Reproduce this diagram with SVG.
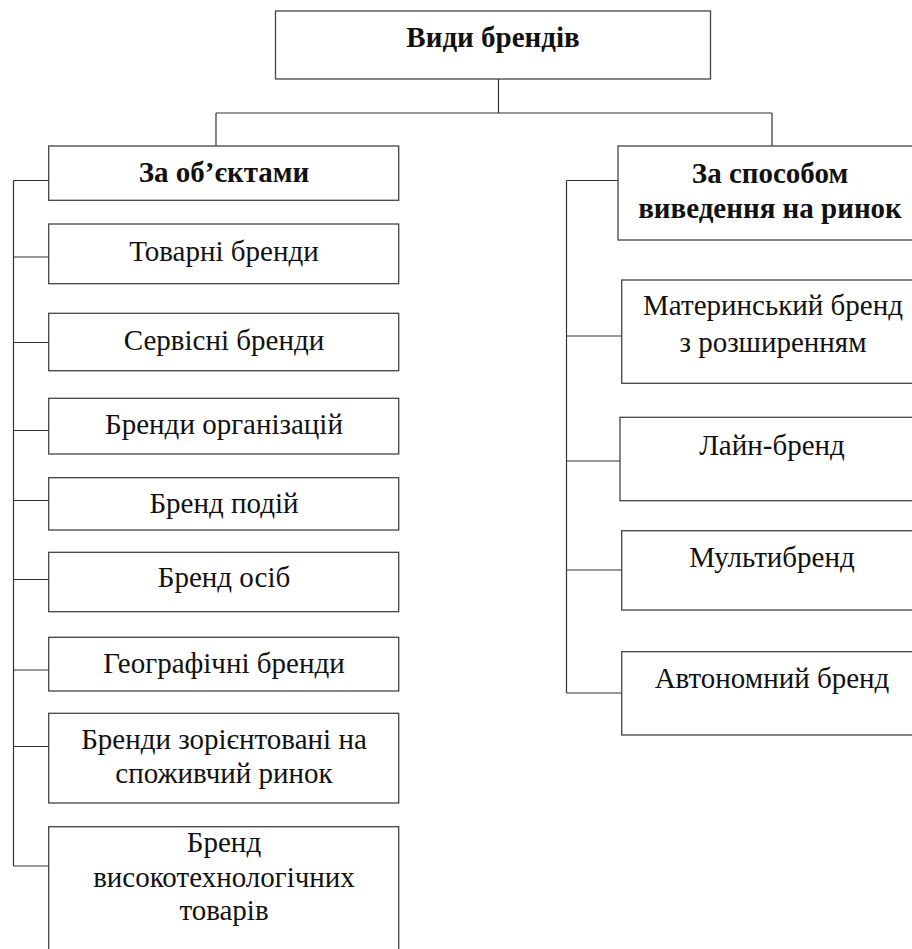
<svg xmlns="http://www.w3.org/2000/svg" width="912" height="949" viewBox="0 0 912 949">
<style>
.box{fill:#fff;stroke:#444;stroke-width:1.3}
.ln{fill:none;stroke:#333;stroke-width:1.2}
.t{font-family:'Liberation Serif','Times New Roman',Tinos,'DejaVu Serif',serif;font-size:29px;fill:#111;text-anchor:middle}
.b{font-weight:bold}
</style>
<rect width="912" height="949" fill="#fff"/>
<g id="connectors">
<path class="ln" d="M498.5,79 V113 M216,113 H772 M216,113 V146 M772,113 V146"/>
<path class="ln" d="M13.5,180.5 V866 M13.5,180.5 H49 M13.5,257 H49 M13.5,342.5 H49 M13.5,430.5 H49 M13.5,500.5 H49 M13.5,579.5 H49 M13.5,670 H49 M13.5,746.5 H49 M13.5,866 H49"/>
<path class="ln" d="M566.5,180.5 V693 M566.5,180.5 H618 M566.5,336 H622 M566.5,461 H620 M566.5,570 H622 M566.5,693 H622"/>
</g>
<g id="root"><rect class="box" x="275.5" y="11" width="435" height="68"/><text class="t b" x="493" y="47">Види брендів</text></g>
<g id="left-head"><rect class="box" x="48.7" y="146" width="350" height="54.3"/><text class="t b" x="224" y="182">За об’єктами</text></g>
<g id="l1"><rect class="box" x="48.7" y="224" width="350" height="59.7"/><text class="t" x="224" y="261">Товарні бренди</text></g>
<g id="l2"><rect class="box" x="48.7" y="313.3" width="350" height="57.4"/><text class="t" x="224" y="349.5">Сервісні бренди</text></g>
<g id="l3"><rect class="box" x="48.7" y="398.3" width="350" height="55.7"/><text class="t" x="224" y="433.5">Бренди організацій</text></g>
<g id="l4"><rect class="box" x="48.7" y="477.7" width="350" height="52.3"/><text class="t" x="224" y="512.7">Бренд подій</text></g>
<g id="l5"><rect class="box" x="48.7" y="552.3" width="350" height="59.4"/><text class="t" x="224" y="587.3">Бренд осіб</text></g>
<g id="l6"><rect class="box" x="48.7" y="637.3" width="350" height="53.7"/><text class="t" x="224" y="673.3">Географічні бренди</text></g>
<g id="l7"><rect class="box" x="48.7" y="713.3" width="350" height="89.7"/><text class="t" x="224" y="749.3">Бренди зорієнтовані на</text><text class="t" x="224" y="783.3">споживчий ринок</text></g>
<g id="l8"><rect class="box" x="48.7" y="826.7" width="350" height="130"/><text class="t" x="224" y="852">Бренд</text><text class="t" x="224" y="886.7">високотехнологічних</text><text class="t" x="224" y="920">товарів</text></g>
<g id="right-head"><rect class="box" x="618" y="146" width="310" height="94"/><text class="t b" x="770" y="183">За способом</text><text class="t b" x="770" y="218">виведення на ринок</text></g>
<g id="r1"><rect class="box" x="621.7" y="280" width="310" height="103.3"/><text class="t" x="773" y="315">Материнський бренд</text><text class="t" x="773" y="351.7">з розширенням</text></g>
<g id="r2"><rect class="box" x="620" y="417.3" width="310" height="83.4"/><text class="t" x="772" y="455">Лайн-бренд</text></g>
<g id="r3"><rect class="box" x="621.7" y="530.7" width="310" height="79.3"/><text class="t" x="772" y="566.7">Мультибренд</text></g>
<g id="r4"><rect class="box" x="621.7" y="651.7" width="310" height="83.3"/><text class="t" x="772" y="688">Автономний бренд</text></g>
</svg>
